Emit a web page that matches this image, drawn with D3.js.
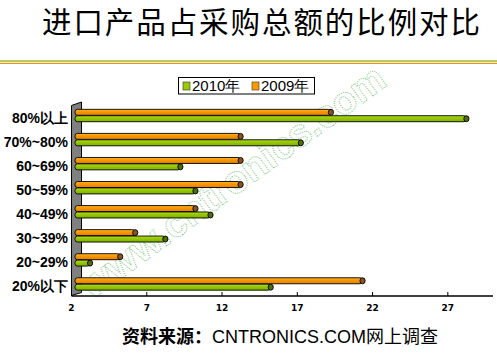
<!DOCTYPE html>
<html><head><meta charset="utf-8">
<script src="https://cdn.jsdelivr.net/npm/d3@7"></script>
<style>body{margin:0;background:#fff}</style>
</head><body>
<script>
const categories = ["80%以上","70%~80%","60~69%","50~59%","40~49%","30~39%","20~29%","20%以下"];
const series2010 = [28.4,17.4,9.4,10.4,11.4,8.4,3.4,15.4];
const series2009 = [19.4,13.4,13.4,13.4,10.4,6.4,5.4,21.5];
const tickValues = [2,7,12,17,22,27];
const seriesNames = ["2010年","2009年"];

const W=497,H=361;
const svg=d3.select("body").append("svg").attr("width",W).attr("height",H);
const defs=svg.append("defs");
function grad(id,c1,c2,c3){
  const g=defs.append("linearGradient").attr("id",id).attr("x1",0).attr("y1",0).attr("x2",0).attr("y2",1);
  g.append("stop").attr("offset","0%").attr("stop-color",c2);
  g.append("stop").attr("offset","35%").attr("stop-color",c1);
  g.append("stop").attr("offset","100%").attr("stop-color",c3);
}
grad("gO","#ff9a00","#ffb840","#e07f00");
grad("gG","#99cc00","#b4dd33","#7fae00");

// title
svg.append("text").attr("x",261).attr("y",33).attr("text-anchor","middle")
  .attr("font-family","'Noto Sans CJK SC'").attr("font-weight",400).attr("font-size",29.5).attr("fill","#000")
  .attr("textLength",438).attr("lengthAdjust","spacing")
  .text("进口产品占采购总额的比例对比");
svg.append("line").attr("x1",0).attr("x2",W).attr("y1",61).attr("y2",61).attr("stroke","#a8b832").attr("stroke-width",1.5);
svg.append("line").attr("x1",0).attr("x2",W).attr("y1",63.3).attr("y2",63.3).attr("stroke","#e09a1a").attr("stroke-width",1.3);

const x=d3.scaleLinear().domain([2,30]).range([71.5,493]);
const y=d3.scaleBand().domain(categories).range([103.5,296]);

// watermark
svg.append("text").attr("transform","translate(92,300) rotate(-36)")
  .attr("font-family","'Liberation Sans',Arial").attr("font-weight","bold").attr("font-size",39)
  .attr("fill","none").attr("stroke","#7cc87c").attr("stroke-width",1).attr("stroke-dasharray","1,1.2")
  .text("www.cntronics.com");

// wall
const wx0=x(2), wx1=x(2)+10;
svg.append("path").attr("d",`M${wx0},${105.5} L${wx1},${102} L${wx1},${292.5} L${wx0},${295.5} Z`)
  .attr("fill","#808080").attr("stroke","#000").attr("stroke-width",1);

// axis
const ax=svg.append("g").attr("transform","translate(0,296)");
ax.append("line").attr("x1",x(2)).attr("x2",x(30)).attr("stroke","#000").attr("stroke-width",1.5);
ax.selectAll(".tk").data(tickValues).join("line").attr("x1",d=>x(d)).attr("x2",d=>x(d)).attr("y1",0).attr("y2",-4).attr("stroke","#000");
ax.selectAll(".tl").data(tickValues).join("text").attr("x",d=>x(d)).attr("y",15).attr("text-anchor","middle")
  .attr("font-family","'DejaVu Sans'").attr("font-weight","bold").attr("font-size",9).text(d=>d);

// category labels
svg.selectAll(".cl").data(categories).join("text").attr("x",68).attr("y",d=>y(d)+y.bandwidth()/2+7)
  .attr("text-anchor","end").attr("font-family","'Liberation Sans',Arial").attr("font-weight","bold").attr("font-size",14)
  .text(d=>d);

// bars
const bh=6, x0=x(2)+3.5;
function drawBars(vals,off,fillId,capCol){
  const g=svg.append("g");
  const cy=(d,i)=>y(categories[i])+y.bandwidth()/2+off;
  g.selectAll("rect").data(vals).join("rect")
    .attr("x",x0).attr("y",(d,i)=>cy(d,i)-bh/2).attr("width",d=>x(d)-2.5-x0).attr("height",bh)
    .attr("rx",2.5).attr("fill",`url(#${fillId})`).attr("stroke","#000").attr("stroke-width",0.9);
  g.selectAll("ellipse").data(vals).join("ellipse")
    .attr("cx",d=>x(d)-2.5).attr("cy",(d,i)=>cy(d,i)).attr("rx",2.6).attr("ry",bh/2)
    .attr("fill",capCol).attr("stroke","#000").attr("stroke-width",0.9);
}
drawBars(series2009,-3.2,"gO","#8a5418");
drawBars(series2010,3.2,"gG","#4f7000");

// legend
const lg=svg.append("g");
lg.append("rect").attr("x",178.5).attr("y",77.5).attr("width",136).attr("height",16.5).attr("fill","#fff").attr("stroke","#000");
const lcol=["#99cc00","#ff9a00"], lx=[183,252];
seriesNames.forEach((n,i)=>{
  lg.append("rect").attr("x",lx[i]).attr("y",82).attr("width",7).attr("height",8).attr("fill",lcol[i]).attr("stroke","#333").attr("stroke-width",0.6);
  lg.append("text").attr("x",lx[i]+9).attr("y",91).attr("font-family","'Liberation Sans',Arial").attr("font-size",15).text(n);
});

// source
const st=svg.append("text").attr("x",122).attr("y",343).attr("font-size",18).attr("font-family","'Liberation Sans','Noto Sans CJK SC'");
st.append("tspan").attr("font-family","'Noto Sans CJK SC'").attr("font-weight","bold").text("资料来源：");
st.append("tspan").text("CNTRONICS.COM");
st.append("tspan").attr("font-family","'Noto Sans CJK SC'").text("网上调查");
</script>
</body></html>
